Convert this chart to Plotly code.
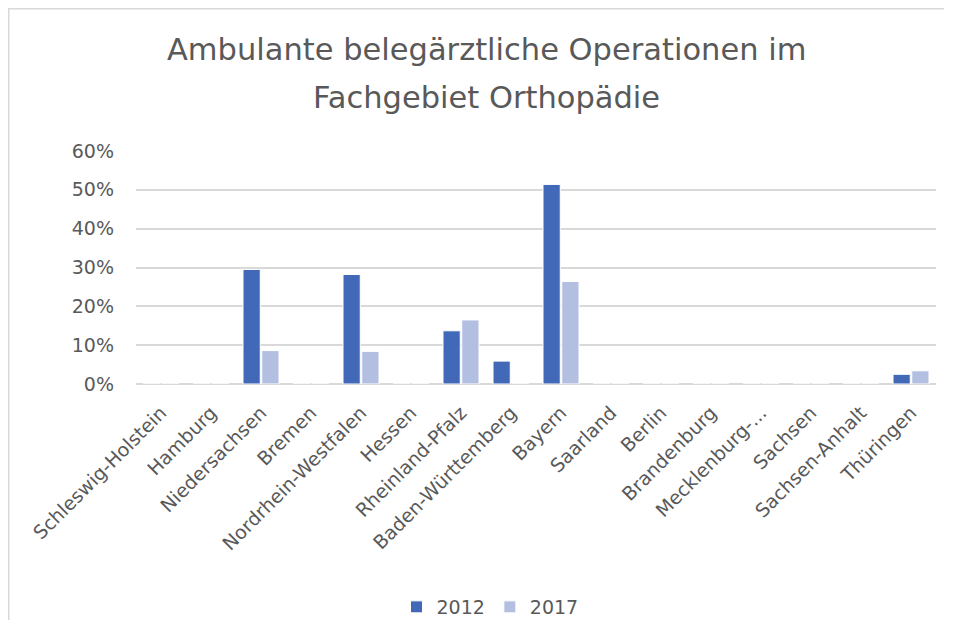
import plotly.graph_objects as go

categories = ["Schleswig-Holstein", "Hamburg", "Niedersachsen", "Bremen",
              "Nordrhein-Westfalen", "Hessen", "Rheinland-Pfalz", "Baden-Württemberg",
              "Bayern", "Saarland", "Berlin", "Brandenburg", "Mecklenburg-...",
              "Sachsen", "Sachsen-Anhalt", "Thüringen"]
values_2012 = [0, 0, 0.295, 0, 0.282, 0, 0.137, 0.059, 0.514, 0, 0, 0, 0, 0, 0, 0.025]
values_2017 = [0, 0, 0.086, 0, 0.084, 0, 0.165, 0, 0.264, 0, 0, 0, 0, 0, 0, 0.034]
y_ticks = [0, 0.1, 0.2, 0.3, 0.4, 0.5, 0.6]
title_lines = ["Ambulante belegärztliche Operationen im", "Fachgebiet Orthopädie"]

FONT = "DejaVu Sans"
GRAY = "#595959"
OFF = 8  # page body margin
W, H = 954 - 2 * OFF - 2, 642 - 2 * OFF - 14
L = 136 - OFF
T = 151 - OFF
R = W - (936 - OFF)
B = H - (384 - OFF)

fig = go.Figure()
fig.add_bar(name="2012", x=categories, y=values_2012, marker_color="#4169B8",
            marker_line_color="white", marker_line_width=1)
fig.add_bar(name="2017", x=categories, y=values_2017, marker_color="#B3BFE0",
            marker_line_color="white", marker_line_width=1)

pw = W - L - R
ph = H - T - B
def px_x(x):
    return (x - OFF - L) / pw
def px_y(y):
    return (H - B - (y - OFF)) / ph

annotations = []
for text, yc in zip(title_lines, [50, 97]):
    annotations.append(dict(text=text, x=px_x(486), y=px_y(yc), xref="paper", yref="paper",
                            xanchor="center", yanchor="middle", showarrow=False,
                            font=dict(family=FONT, size=30.5, color=GRAY)))

right_edge = OFF + W
bottom_edge = OFF + H
shapes = [
    dict(type="line", xref="paper", yref="paper", x0=px_x(8), x1=px_x(right_edge),
         y0=px_y(8.75), y1=px_y(8.75), line=dict(color="#D9D9D9", width=1.5)),
    dict(type="line", xref="paper", yref="paper", x0=px_x(8.75), x1=px_x(8.75),
         y0=px_y(8), y1=px_y(bottom_edge), line=dict(color="#D9D9D9", width=1.5)),
]

fig.update_layout(
    width=W, height=H,
    margin=dict(l=L, r=R, t=T, b=B, autoexpand=False),
    paper_bgcolor="white", plot_bgcolor="white",
    barmode="group", bargap=0.25, bargroupgap=0.08,
    font=dict(family=FONT, color=GRAY, size=19),
    annotations=annotations, shapes=shapes,
    legend=dict(orientation="h", x=px_x(490), y=px_y(607), xanchor="center", yanchor="middle",
                font=dict(size=19, color=GRAY), itemwidth=30, tracegroupgap=0),
    showlegend=True,
)
fig.update_xaxes(tickangle=-45, showgrid=False, showline=False, ticks="",
                 ticklabelstandoff=13, tickfont=dict(size=19, color=GRAY))
fig.update_yaxes(range=[0, 0.6], tickvals=y_ticks, tickformat=".0%", showgrid=True,
                 gridcolor="#D9D9D9", gridwidth=1.5, zeroline=True, zerolinecolor="#D9D9D9",
                 zerolinewidth=1.5, showline=False, ticks="", ticklabelstandoff=21,
                 tickfont=dict(size=19, color=GRAY))

fig.write_html("out.html")
